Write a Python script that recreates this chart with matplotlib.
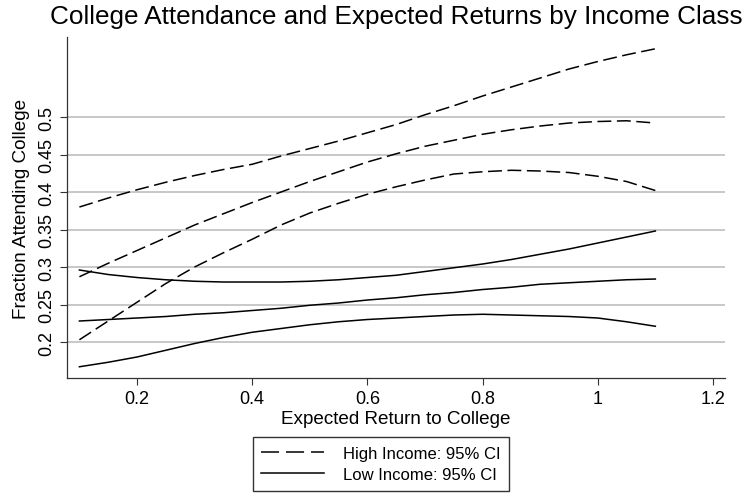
import matplotlib
matplotlib.use('Agg')
from matplotlib import pyplot as plt
from matplotlib.lines import Line2D

plt.rcParams['font.family'] = ['Liberation Sans', 'DejaVu Sans']
plt.rcParams['lines.scale_dashes'] = False

# expected return to college (x grid of the smoothed fits)
ret = [0.10, 0.15, 0.20, 0.25, 0.30, 0.35, 0.40, 0.45, 0.50, 0.55, 0.60,
       0.65, 0.70, 0.75, 0.80, 0.85, 0.90, 0.95, 1.00, 1.05, 1.10]

# high income: upper bound, fit, lower bound
hi_upper = [0.380, 0.392, 0.403, 0.413, 0.422, 0.430, 0.437, 0.448, 0.458, 0.468, 0.479,
            0.490, 0.503, 0.515, 0.528, 0.540, 0.552, 0.564, 0.574, 0.583, 0.591]
hi_fit = [0.287, 0.305, 0.322, 0.339, 0.356, 0.371, 0.386, 0.400, 0.414, 0.427, 0.440,
          0.451, 0.461, 0.469, 0.477, 0.483, 0.488, 0.492, 0.494, 0.495, 0.492]
hi_lower = [0.203, 0.228, 0.253, 0.278, 0.300, 0.319, 0.337, 0.356, 0.372, 0.385, 0.397,
            0.407, 0.416, 0.424, 0.427, 0.429, 0.428, 0.426, 0.421, 0.414, 0.402]

# low income: upper bound, fit, lower bound
lo_upper = [0.296, 0.290, 0.286, 0.283, 0.281, 0.280, 0.280, 0.280, 0.281, 0.283, 0.286,
            0.289, 0.294, 0.299, 0.304, 0.310, 0.317, 0.324, 0.332, 0.340, 0.348]
lo_fit = [0.228, 0.230, 0.232, 0.234, 0.237, 0.239, 0.242, 0.245, 0.249, 0.252, 0.256,
          0.259, 0.263, 0.266, 0.270, 0.273, 0.277, 0.279, 0.281, 0.283, 0.284]
lo_lower = [0.167, 0.173, 0.180, 0.189, 0.198, 0.206, 0.213, 0.218, 0.223, 0.227, 0.230,
            0.232, 0.234, 0.236, 0.237, 0.236, 0.235, 0.234, 0.232, 0.227, 0.221]

yticks = [0.2, 0.25, 0.3, 0.35, 0.4, 0.45, 0.5]
ytick_labels = ['0.2', '0.25', '0.3', '0.35', '0.4', '0.45', '0.5']
xticks = [0.2, 0.4, 0.6, 0.8, 1.0, 1.2]
xtick_labels = ['0.2', '0.4', '0.6', '0.8', '1', '1.2']

dash = (0, (10, 4))

fig = plt.figure(figsize=(7.48, 5.02), dpi=100)
ax = fig.add_axes([0.0896, 0.245, 0.8797, 0.6793])

for ys in (hi_upper, hi_fit, hi_lower):
    ax.plot(ret, ys, color='black', lw=1.1, linestyle=dash)
for ys in (lo_upper, lo_fit, lo_lower):
    ax.plot(ret, ys, color='black', lw=1.1)

ax.set_xlim(0.0785, 1.221)
ax.set_ylim(0.152, 0.6067)

ax.set_yticks(yticks)
ax.set_yticklabels(ytick_labels, rotation=90, va='center')
ax.set_xticks(xticks)
ax.set_xticklabels(xtick_labels)
ax.tick_params(labelsize=13, length=5, width=0.8, color='#333333')
ax.yaxis.grid(True, color='#c8c8c8', lw=1.4)
ax.set_axisbelow(True)

for side in ('top', 'right'):
    ax.spines[side].set_visible(False)
for side in ('left', 'bottom'):
    ax.spines[side].set_color('#333333')
    ax.spines[side].set_linewidth(0.9)

ax.set_xlabel('Expected Return to College', fontsize=13.6, labelpad=2)
ax.set_ylabel('Fraction Attending College', fontsize=13.6, labelpad=6)

fig.text(0.530, 0.952, 'College Attendance and Expected Returns by Income Class',
         fontsize=18.8, ha='center', va='baseline')

handles = [Line2D([], [], color='black', lw=1.1, linestyle=(0, (13, 5))),
           Line2D([], [], color='black', lw=1.1)]
fig.legend(handles, ['High Income: 95% CI', 'Low Income: 95% CI'],
           loc='lower center', bbox_to_anchor=(0.509, 0.004), fontsize=12,
           handlelength=3.8, handletextpad=1.1, borderpad=0.5, labelspacing=0.4,
           frameon=True, fancybox=False, edgecolor='#333333', framealpha=1)

plt.savefig('out.png', dpi=100)
plt.close()
